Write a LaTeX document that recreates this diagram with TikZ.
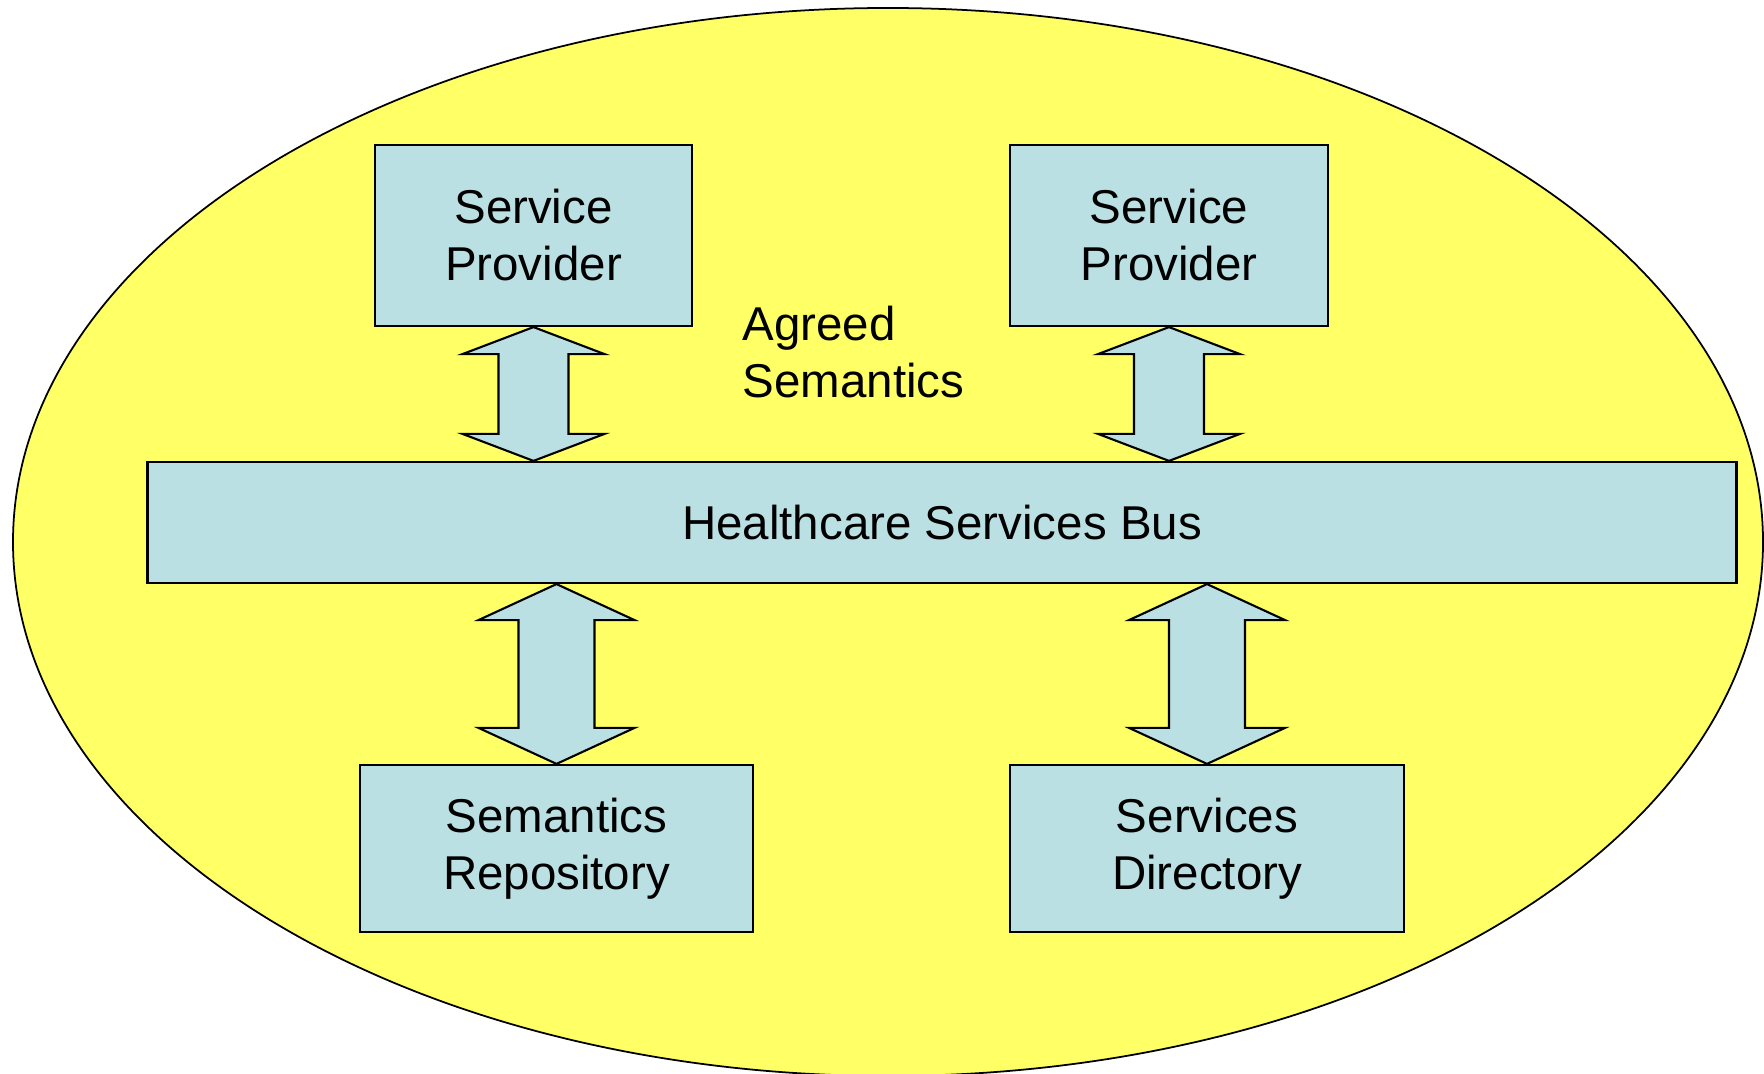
\documentclass[tikz,border=0pt]{standalone}
\usepackage{fontspec}
\setmainfont{Liberation Sans}
\usetikzlibrary{calc}

\definecolor{fieldyellow}{RGB}{255,255,102}
\definecolor{boxblue}{RGB}{187,224,227}

% double block arrow: top tip, bottom tip, head half width, shaft half width, head length
\newcommand{\biarrow}[5]{%
  \draw[link] (#1) -- ($(#1)+(#3,#5)$) -- ($(#1)+(#4,#5)$) -- ($(#2)+(#4,-#5)$)
    -- ($(#2)+(#3,-#5)$) -- (#2) -- ($(#2)+(-#3,-#5)$) -- ($(#2)+(-#4,-#5)$)
    -- ($(#1)+(-#4,#5)$) -- ($(#1)+(-#3,#5)$) -- cycle;}

\begin{document}
\begin{tikzpicture}[x=0.01cm, y=-0.01cm,
    box/.style={draw, fill=boxblue, line width=0.6pt, align=center, inner sep=0pt,
      font=\fontsize{13.5}{16.2}\selectfont},
    link/.style={draw, fill=boxblue, line width=0.6pt, line join=miter}]
    \useasboundingbox (0,0) rectangle (1764,1074);
    \draw[fill=fieldyellow, line width=0.5pt] (888,542) ellipse [x radius=875, y radius=534];

    \node[box, minimum width=3.17cm, minimum height=1.81cm] (prov1) at (533.5,235.5) {Service\\Provider};
    \node[box, minimum width=3.18cm, minimum height=1.81cm] (prov2) at (1169,235.5) {Service\\Provider};
    \node[box, minimum width=15.88cm, minimum height=1.21cm] (bus) at (942,522.5) {Healthcare Services Bus};
    \node[box, minimum width=3.93cm, minimum height=1.67cm] (repo) at (556.5,848.5) {Semantics\\Repository};
    \node[box, minimum width=3.94cm, minimum height=1.67cm] (dir) at (1207,848.5) {Services\\Directory};
    \node[anchor=west, align=left, inner sep=0pt, font=\fontsize{13.5}{16.2}\selectfont] (agreed) at (742,352) {Agreed\\Semantics};

    \coordinate (prov1end) at (prov1.south |- bus.north);
    \coordinate (prov2end) at (prov2.south |- bus.north);
    \coordinate (repoend) at (repo.north |- bus.south);
    \coordinate (dirend) at (dir.north |- bus.south);

    \biarrow{prov1.south}{prov1end}{71}{35}{27}
    \biarrow{prov2.south}{prov2end}{71}{35}{27}
    \biarrow{repoend}{repo.north}{78}{38}{36}
    \biarrow{dirend}{dir.north}{78}{38}{36}
\end{tikzpicture}
\end{document}
